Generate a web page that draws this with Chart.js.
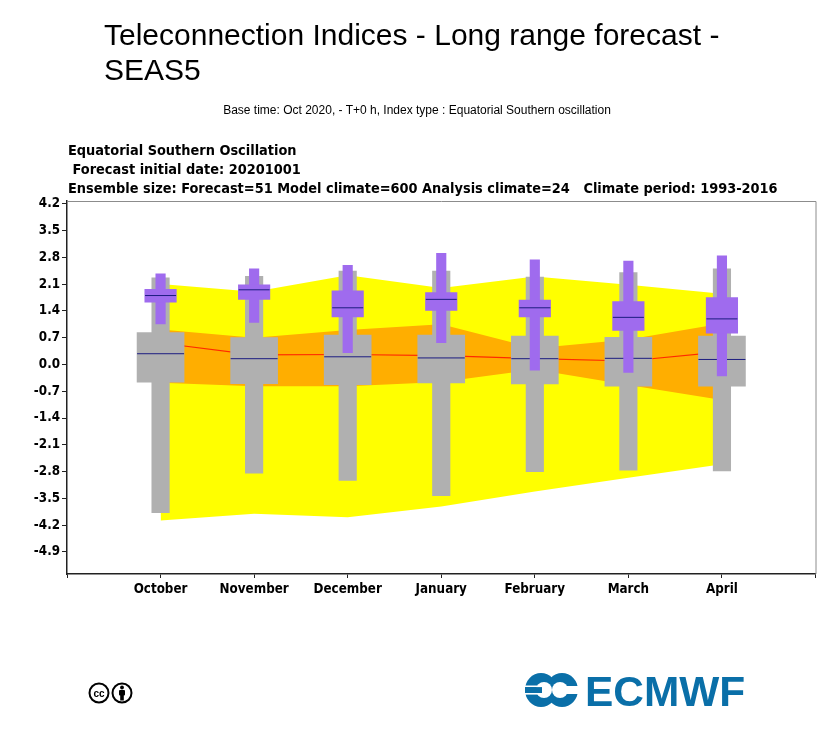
<!DOCTYPE html>
<html>
<head>
<meta charset="utf-8">
<title>Teleconnection Indices - SEAS5</title>
<script src="https://cdn.jsdelivr.net/npm/chart.js@4"></script>
<style>
    html, body { margin: 0; padding: 0; background: #fff; }
    #page { position: relative; width: 834px; height: 750px; overflow: hidden; }
    #page div, #page svg { position: absolute; white-space: pre; color: #000; }
    #seasChart { position: absolute; left: 0; top: 0; }
    #mainTitle { left: 104px; top: 17px; font: 30px/35px "Liberation Sans", sans-serif; }
    #subTitle { left: 0; width: 834px; top: 103px; text-align: center; font: 12px/14px "Liberation Sans", sans-serif; }
    .head { left: 68px; font: bold 14.4px/19px "DejaVu Sans Condensed", "DejaVu Sans", sans-serif; font-stretch: condensed; }
    #ecmwfText { left: 585px; top: 666px; color: #0a6fa8 !important; font: bold 42px/52px "Liberation Sans", sans-serif; transform: scaleX(1.01); transform-origin: 0 0; }
</style>
</head>
<body>
<div id="page">
    <canvas id="seasChart" width="840" height="750"></canvas>
    <div id="mainTitle">Teleconnection Indices - Long range forecast -
SEAS5</div>
    <div id="subTitle">Base time: Oct 2020, - T+0 h, Index type : Equatorial Southern oscillation</div>
    <div class="head" id="head1" style="top:141px">Equatorial Southern Oscillation</div>
    <div class="head" id="head2" style="top:160px"> Forecast initial date: 20201001</div>
    <div class="head" id="head3" style="top:179px">Ensemble size: Forecast=51 Model climate=600 Analysis climate=24   Climate period: 1993-2016</div>

    <!-- CC BY badge -->
    <svg style="left:88px;top:681px" width="46" height="24" viewBox="0 0 46 24">
        <circle cx="11" cy="12" r="9.5" fill="#fff" stroke="#000" stroke-width="2"/>
        <text x="11" y="15.5" text-anchor="middle" font-family="Liberation Sans" font-weight="bold" font-size="10">cc</text>
        <circle cx="34" cy="12" r="9.5" fill="#fff" stroke="#000" stroke-width="2"/>
        <circle cx="34" cy="6.5" r="1.9" fill="#000"/>
        <rect x="31" y="9" width="6" height="5.5" rx="1" fill="#000"/>
        <rect x="32.2" y="14" width="3.6" height="5.5" fill="#000"/>
    </svg>

    <!-- ECMWF logo mark -->
    <svg style="left:525px;top:673px" width="53" height="34" viewBox="0 0 53 34">
        <ellipse cx="16" cy="17" rx="16" ry="17" fill="#0a6fa8"/>
        <ellipse cx="37" cy="17" rx="16" ry="17" fill="#0a6fa8"/>
        <circle cx="19" cy="17" r="8" fill="#fff"/>
        <circle cx="35" cy="17" r="8" fill="#fff"/>
        <rect x="0" y="12.5" width="14" height="1.6" fill="#fff"/>
        <rect x="0" y="20" width="14" height="1.6" fill="#fff"/>
        <rect x="0" y="14.1" width="17" height="5.9" fill="#0a6fa8"/>
        <rect x="38" y="13" width="15" height="8" fill="#fff"/>
    </svg>
    <div id="ecmwfText">ECMWF</div>
</div>

<script>
// Blank labels pad the axis so the months sit in slots 1..7
const monthLabels = ['', 'October', 'November', 'December', 'January', 'February', 'March', 'April', ''];
const yTickValues = [4.2, 3.5, 2.8, 2.1, 1.4, 0.7, 0, -0.7, -1.4, -2.1, -2.8, -3.5, -4.2, -4.9];

// Forecast (purple) box and whiskers
const forecastMax = [null, 2.37, 2.50, 2.59, 2.90, 2.73, 2.70, 2.84, null];
const forecastUpper = [null, 1.96, 2.08, 1.92, 1.88, 1.68, 1.64, 1.75, null];
const forecastMedian = [null, 1.80, 1.95, 1.48, 1.70, 1.48, 1.23, 1.19, null];
const forecastLower = [null, 1.63, 1.70, 1.24, 1.41, 1.24, 0.89, 0.82, null];
const forecastMin = [null, 1.06, 1.10, 0.31, 0.57, -0.15, -0.21, -0.30, null];

// Model climate (grey) box and whiskers
const climateMax = [null, 2.26, 2.30, 2.44, 2.44, 2.28, 2.40, 2.50, null];
const climateUpper = [null, 0.83, 0.70, 0.77, 0.77, 0.74, 0.71, 0.74, null];
const climateMedian = [null, 0.28, 0.15, 0.20, 0.17, 0.15, 0.16, 0.13, null];
const climateLower = [null, -0.46, -0.50, -0.53, -0.48, -0.51, -0.57, -0.57, null];
const climateMin = [null, -3.87, -2.84, -3.03, -3.43, -2.80, -2.76, -2.78, null];

// Analysis climate bands
const yellowTop = [null, 2.10, 1.90, 2.33, 2.00, 2.30, 2.08, 1.85, null];
const orangeTop = [null, 0.91, 0.70, 0.90, 1.05, 0.42, 0.65, 1.07, null];
const analysisMedian = [null, 0.56, 0.25, 0.26, 0.23, 0.15, 0.09, 0.33, null];
const orangeBottom = [null, -0.48, -0.57, -0.57, -0.46, -0.13, -0.54, -0.93, null];
const yellowBottom = [null, -4.08, -3.90, -3.99, -3.71, -3.32, -2.96, -2.61, null];

const PURPLE = '#9f6bee';
const GREY = '#b0b0b0';
const NAVY = '#1c1c80';

// Pair two arrays into floating bar values
function floatBars(low, high) {
    return low.map((v, i) => (v === null ? null : [v, high[i]]));
}

function bandLine(label, data, fillColor, fillTarget, order) {
    return {
        type: 'line', label: label, data: data, order: order,
        borderWidth: 0, pointRadius: 0, tension: 0,
        backgroundColor: fillColor, fill: fillTarget
    };
}

function boxBars(label, low, high, color, thickness, order) {
    return {
        type: 'bar', label: label, data: floatBars(low, high), order: order,
        backgroundColor: color, barThickness: thickness, grouped: false
    };
}

function medianMarks(label, data, radius, order) {
    return {
        type: 'line', label: label, data: data, order: order, showLine: false,
        pointStyle: 'line', pointRadius: radius, pointHoverRadius: radius,
        pointBorderColor: NAVY, pointBorderWidth: 1
    };
}

// Plot frame: grey on top and right, the axes draw the other two sides
const frameLines = {
    id: 'frameLines',
    afterDraw(chart) {
        const { ctx, chartArea: a } = chart;
        ctx.save();
        ctx.strokeStyle = '#8c8c8c';
        ctx.lineWidth = 1;
        ctx.beginPath();
        ctx.moveTo(a.left, a.top + 0.5);
        ctx.lineTo(a.right + 0.5, a.top + 0.5);
        ctx.lineTo(a.right + 0.5, a.bottom);
        ctx.stroke();
        ctx.restore();
    }
};

const tickFont = { family: '"DejaVu Sans Condensed", "DejaVu Sans", sans-serif', size: 13.3, weight: 'bold' };

new Chart(document.getElementById('seasChart'), {
    data: {
        labels: monthLabels,
        datasets: [
            bandLine('Yellow top', yellowTop, '#ffff00', '+1', 20),
            bandLine('Yellow bottom', yellowBottom, '#ffff00', false, 20),
            bandLine('Orange top', orangeTop, '#ffae00', '+1', 18),
            bandLine('Orange bottom', orangeBottom, '#ffae00', false, 18),
            {
                type: 'line', label: 'Analysis median', data: analysisMedian, order: 16,
                borderColor: '#ff2a00', borderWidth: 1.2, pointRadius: 0, tension: 0, fill: false
            },
            boxBars('Climate whisker', climateMin, climateMax, GREY, 17.5, 14),
            boxBars('Climate box', climateLower, climateUpper, GREY, 47, 13),
            medianMarks('Climate median', climateMedian, 23.5, 12),
            boxBars('Forecast whisker', forecastMin, forecastMax, PURPLE, 9.5, 10),
            boxBars('Forecast box', forecastLower, forecastUpper, PURPLE, 31.5, 9),
            medianMarks('Forecast median', forecastMedian, 15.5, 8)
        ]
    },
    options: {
        responsive: false,
        animation: false,
        devicePixelRatio: 1,
        layout: { padding: { left: 27, top: 201, right: 17.5, bottom: 150 } },
        plugins: { legend: { display: false }, tooltip: { enabled: false } },
        scales: {
            x: {
                type: 'category',
                offset: false,
                border: { color: '#222', width: 1.5 },
                grid: { drawOnChartArea: false, offset: false, color: '#222', tickLength: 4 },
                ticks: {
                    color: '#000', font: tickFont, autoSkip: false, maxRotation: 0, padding: 4
                },
                afterFit(scale) {
                    scale.height = 26;
                    // blank end labels should not shrink the plot
                    scale.paddingLeft = 0;
                    scale.paddingRight = 0;
                }
            },
            y: {
                min: -5.475,
                max: 4.27,
                border: { color: '#222', width: 1.5 },
                grid: { drawOnChartArea: false, color: '#222', tickLength: 5 },
                afterBuildTicks(scale) {
                    scale.ticks = yTickValues.map(v => ({ value: v }));
                },
                ticks: {
                    color: '#000', font: tickFont, padding: 2,
                    callback: v => v.toFixed(1)
                },
                afterFit(scale) { scale.width = 40; }
            }
        }
    },
    plugins: [frameLines]
});
</script>
</body>
</html>
